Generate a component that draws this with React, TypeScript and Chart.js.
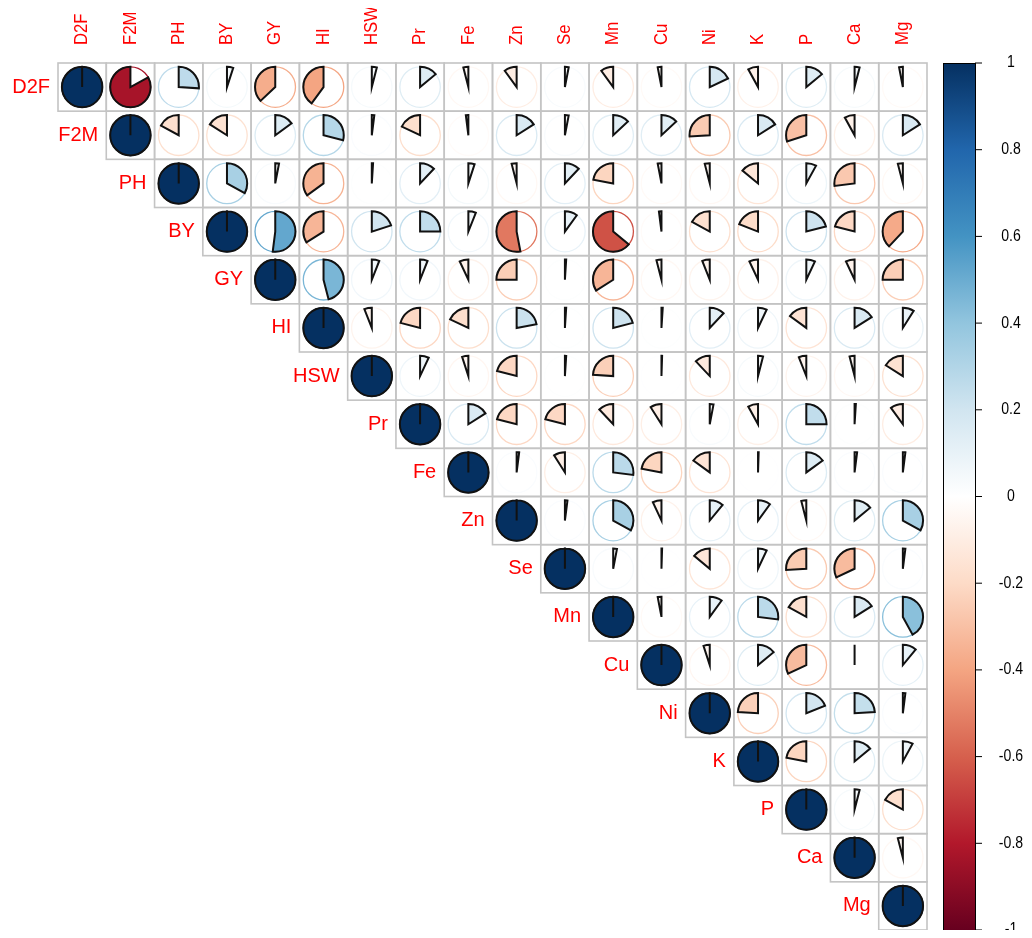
import React, { useEffect, useRef } from "react";
import { Chart, registerables } from "chart.js";

Chart.register(...registerables);

// Variable names (rows and columns)
const variables = ["D2F", "F2M", "PH", "BY", "GY", "HI", "HSW", "Pr", "Fe", "Zn", "Se", "Mn", "Cu", "Ni", "K", "P", "Ca", "Mg"];

// Upper-triangle correlations, each row lists the columns to the right of the diagonal
const corrD2F = [-0.83, 0.26, 0.05, -0.37, -0.4, 0.04, 0.14, -0.04, -0.1, 0.03, -0.1, -0.03, 0.18, -0.08, 0.14, 0.04, -0.03];
const corrF2M = [-0.17, -0.16, 0.15, 0.29, 0.02, -0.18, -0.02, 0.16, 0.03, 0.13, 0.13, -0.26, 0.16, -0.3, -0.08, 0.16];
const corrPH = [0.33, 0.03, -0.35, 0.01, 0.12, 0.05, -0.04, 0.12, -0.22, -0.03, -0.04, -0.14, 0.08, -0.27, -0.04];
const corrBY = [0.52, -0.34, 0.2, 0.25, 0.06, -0.53, 0.1, -0.64, -0.02, -0.17, -0.19, 0.21, -0.21, -0.38];
const corrGY = [0.46, 0.06, 0.06, -0.07, -0.25, 0.01, -0.34, -0.04, -0.06, -0.07, 0.07, -0.07, -0.25];
const corrHI = [-0.06, -0.21, -0.18, 0.22, 0.01, 0.21, 0.01, 0.12, 0.07, -0.15, 0.16, 0.09];
const corrHSW = [0.07, -0.05, -0.21, 0.01, -0.24, 0.005, -0.12, 0.04, -0.06, -0.04, -0.16];
const corrPr = [0.16, -0.21, -0.21, -0.12, -0.09, 0.03, -0.08, 0.25, 0.01, -0.1];
const corrFe = [0.02, -0.09, 0.27, -0.22, -0.15, 0.005, 0.15, 0.02, 0.02];
const corrZn = [0.02, 0.33, -0.07, 0.11, 0.1, -0.04, 0.14, 0.33];
const corrSe = [0.03, 0.005, -0.14, 0.07, -0.26, -0.32, 0.02];
const corrMn = [-0.03, 0.1, 0.27, -0.17, 0.16, 0.42];
const corrCu = [-0.05, 0.14, -0.32, 0.0, 0.11];
const corrNi = [-0.24, 0.19, 0.24, 0.02];
const corrK = [-0.22, 0.14, 0.08];
const corrP = [0.04, -0.17];
const corrCa = [-0.04];
const corrMg: number[] = [];

const corrRows = [corrD2F, corrF2M, corrPH, corrBY, corrGY, corrHI, corrHSW, corrPr, corrFe, corrZn, corrSe, corrMn, corrCu, corrNi, corrK, corrP, corrCa, corrMg];

// Colour legend ticks
const legendTicks = [1, 0.8, 0.6, 0.4, 0.2, 0, -0.2, -0.4, -0.6, -0.8, -1];
const legendLabels = ["1", "0.8", "0.6", "0.4", "0.2", "0", "-0.2", "-0.4", "-0.6", "-0.8", "-1"];

// RdBu palette from -1 to 1
const palette = ["#67001F", "#B2182B", "#D6604D", "#F4A582", "#FDDBC7", "#FFFFFF", "#D1E5F0", "#92C5DE", "#4393C3", "#2166AC", "#053061"];

function hexToRgb(h: string) {
  const n = parseInt(h.slice(1), 16);
  return [(n >> 16) & 255, (n >> 8) & 255, n & 255];
}
function corrColor(v: number) {
  const t = Math.max(0, Math.min(1, (v + 1) / 2)) * (palette.length - 1);
  const i = Math.min(palette.length - 2, Math.floor(t));
  const f = t - i;
  const a = hexToRgb(palette[i]);
  const b = hexToRgb(palette[i + 1]);
  const c = a.map((x, k) => Math.round(x + (b[k] - x) * f));
  return `rgb(${c[0]},${c[1]},${c[2]})`;
}

const FONT = '"Liberation Sans", Arial, Helvetica, sans-serif';

const piePlugin = {
  id: "corrPie",
  afterDatasetsDraw(chart: any) {
    const ctx: CanvasRenderingContext2D = chart.ctx;
    const xs = chart.scales.x;
    const ys = chart.scales.y;
    const meta = chart.getDatasetMeta(0);
    const data = chart.data.datasets[0].data as any[];
    const cw = Math.abs(xs.getPixelForValue(1) - xs.getPixelForValue(0));
    const ch = Math.abs(ys.getPixelForValue(1) - ys.getPixelForValue(0));
    const rad = 0.42 * Math.min(cw, ch);
    ctx.save();
    // grid
    ctx.strokeStyle = "#c4c4c4";
    ctx.lineWidth = 1.6;
    meta.data.forEach((el: any) => {
      ctx.strokeRect(el.x - cw / 2, el.y - ch / 2, cw, ch);
    });
    // pies
    meta.data.forEach((el: any, k: number) => {
      const v = data[k].v as number;
      const col = corrColor(v);
      ctx.beginPath();
      ctx.arc(el.x, el.y, rad, 0, Math.PI * 2);
      ctx.strokeStyle = col;
      ctx.lineWidth = 1.3;
      ctx.stroke();
      const ang = Math.abs(v) * Math.PI * 2;
      const start = -Math.PI / 2;
      const end = v >= 0 ? start + ang : start - ang;
      ctx.beginPath();
      ctx.moveTo(el.x, el.y);
      ctx.lineTo(el.x, el.y - rad);
      ctx.arc(el.x, el.y, rad, start, end, v < 0);
      ctx.closePath();
      ctx.fillStyle = col;
      ctx.fill();
      ctx.strokeStyle = "#111";
      ctx.lineWidth = 2;
      ctx.lineJoin = "miter";
      ctx.stroke();
    });
    // row labels
    ctx.fillStyle = "#ff0000";
    ctx.font = `20px ${FONT}`;
    ctx.textAlign = "right";
    ctx.textBaseline = "middle";
    variables.forEach((name, i) => {
      const x = xs.getPixelForValue(i) - cw / 2 - 8;
      const y = ys.getPixelForValue(i);
      ctx.fillText(name, x, y);
    });
    // column labels
    ctx.font = `19px ${FONT}`;
    ctx.textAlign = "left";
    variables.forEach((name, j) => {
      const x = xs.getPixelForValue(j);
      const y = chart.chartArea.top - 18;
      ctx.save();
      ctx.translate(x, y);
      ctx.rotate(-Math.PI / 2);
      ctx.scale(0.88, 1);
      ctx.fillText(name, 0, 0);
      ctx.restore();
    });
    // colour legend
    const top = chart.chartArea.top;
    const bottom = chart.chartArea.bottom;
    const lx = chart.chartArea.right + 16;
    const lw = 32;
    const grad = ctx.createLinearGradient(0, top, 0, bottom);
    palette.forEach((c, i) => grad.addColorStop(1 - i / (palette.length - 1), c));
    ctx.fillStyle = grad;
    ctx.fillRect(lx, top, lw, bottom - top);
    ctx.strokeStyle = "#000";
    ctx.lineWidth = 1;
    ctx.strokeRect(lx + 0.5, top + 0.5, lw, bottom - top);
    ctx.font = `16px ${FONT}`;
    ctx.textAlign = "center";
    ctx.textBaseline = "middle";
    ctx.fillStyle = "#000";
    legendTicks.forEach((t, i) => {
      const y = top + ((1 - t) / 2) * (bottom - top);
      ctx.beginPath();
      ctx.moveTo(lx + lw, y);
      ctx.lineTo(lx + lw + 7, y);
      ctx.stroke();
      ctx.save();
      ctx.translate(lx + lw + 36, y);
      ctx.scale(0.88, 1);
      ctx.fillText(legendLabels[i], 0, 0);
      ctx.restore();
    });
    ctx.restore();
  },
};

export default function App() {
  const ref = useRef<HTMLCanvasElement | null>(null);
  useEffect(() => {
    if (!ref.current) return;
    const points: { x: number; y: number; v: number }[] = [];
    variables.forEach((_, i) => {
      for (let j = i; j < variables.length; j++) {
        points.push({ x: j, y: i, v: i === j ? 1 : corrRows[i][j - i - 1] });
      }
    });
    const chart = new Chart(ref.current, {
      type: "scatter",
      data: {
        datasets: [
          {
            data: points as any,
            pointRadius: 0,
            pointHoverRadius: 0,
          },
        ],
      },
      options: {
        animation: false,
        responsive: false,
        events: [],
        layout: { padding: { left: 50, top: 55, right: 97, bottom: 0 } },
        plugins: { legend: { display: false }, tooltip: { enabled: false } },
        scales: {
          x: { type: "linear", min: -0.5, max: 17.5, display: false },
          y: { type: "linear", min: -0.5, max: 17.5, reverse: true, display: false },
        },
      },
      plugins: [piePlugin],
    });
    return () => chart.destroy();
  }, []);
  return (
    <div style={{ width: 1016, height: 922 }}>
      <canvas ref={ref} width={1016} height={922} style={{ display: "block" }} />
    </div>
  );
}
